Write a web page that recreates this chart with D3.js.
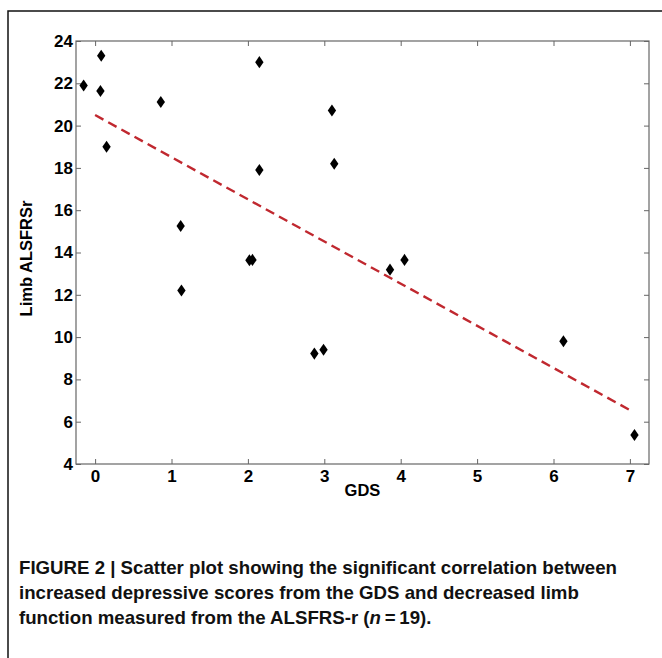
<!DOCTYPE html>
<html>
<head>
<meta charset="utf-8">
<script src="https://cdn.jsdelivr.net/npm/d3@7"></script>
<style>
  html, body { margin: 0; padding: 0; background: #fff; }
  svg { display: block; }
</style>
</head>
<body>
<svg id="chart" width="662" height="658"></svg>
<script>
// ---- data ----
const gds   = [-0.15, 0.08, 0.07, 0.15, 0.86, 1.12, 1.13, 2.02, 2.06, 2.15, 2.15, 2.87, 2.99, 3.10, 3.13, 3.86, 4.05, 6.13, 7.06];
const limb  = [21.9, 23.3, 21.64, 19.0, 21.12, 15.25, 12.2, 13.63, 13.65, 23.0, 17.9, 9.22, 9.4, 20.71, 18.2, 13.19, 13.65, 9.8, 5.37];
const fitX  = [0, 7];
const fitY  = [20.5, 6.55];
const xTicks = [0, 1, 2, 3, 4, 5, 6, 7];
const yTicks = [4, 6, 8, 10, 12, 14, 16, 18, 20, 22, 24];
const xLabel = "GDS";
const yLabel = "Limb ALSFRSr";
const captionLines = [
  [{t:"FIGURE 2 | ", i:false}, {t:"Scatter plot showing the significant correlation between", i:false}],
  [{t:"increased depressive scores from the GDS and decreased limb", i:false}],
  [{t:"function measured from the ALSFRS-r (", i:false}, {t:"n", i:true}, {t:"\u2009=\u200919).", i:false}]
];

// ---- layout ----
const svg = d3.select("#chart");
const L = 76, R = 649, T = 41, B = 464;
const x = d3.scaleLinear().domain([-0.25, 7.25]).range([L, R]);
const y = d3.scaleLinear().domain([4, 24]).range([B, T]);
const axisColor = "#666";
const font = "'Liberation Sans', Arial, Helvetica, sans-serif";

// outer frame
svg.append("rect").attr("x", 8).attr("y", 11).attr("width", 700).attr("height", 700)
  .attr("fill", "none").attr("stroke", "#111").attr("stroke-width", 1.5);

// axes
function styleAxis(g, showLabels) {
  g.select(".domain").remove();
  g.selectAll(".tick line").attr("stroke", axisColor).attr("stroke-width", 1);
  g.selectAll(".tick text")
    .attr("fill", "#000").attr("font-family", font).attr("font-weight", "bold").attr("font-size", "17px");
  if (!showLabels) g.selectAll(".tick text").remove();
}
svg.append("g").attr("transform", `translate(0,${B})`)
  .call(d3.axisBottom(x).tickValues(xTicks).tickSizeInner(-5).tickSizeOuter(0).tickPadding(6).tickFormat(d3.format("d")))
  .call(g => styleAxis(g, true));
svg.append("g").attr("transform", `translate(0,${T})`)
  .call(d3.axisTop(x).tickValues(xTicks).tickSizeInner(-5).tickSizeOuter(0))
  .call(g => styleAxis(g, false));
svg.append("g").attr("transform", `translate(${L},0)`)
  .call(d3.axisLeft(y).tickValues(yTicks).tickSizeInner(-5).tickSizeOuter(0).tickPadding(3).tickFormat(d3.format("d")))
  .call(g => styleAxis(g, true));
svg.append("g").attr("transform", `translate(${R},0)`)
  .call(d3.axisRight(y).tickValues(yTicks).tickSizeInner(-5).tickSizeOuter(0))
  .call(g => styleAxis(g, false));

// box
svg.append("rect").attr("x", L).attr("y", T).attr("width", R - L).attr("height", B - T)
  .attr("fill", "none").attr("stroke", axisColor).attr("stroke-width", 1.2);

// regression line
const fit = fitX.map((v, i) => ({x: v, y: fitY[i]}));
svg.append("path").datum(fit)
  .attr("d", d3.line().x(d => x(d.x)).y(d => y(d.y)))
  .attr("fill", "none").attr("stroke", "#c0282f").attr("stroke-width", 2.4)
  .attr("stroke-dasharray", "9.5,5.5");

// points
const pts = gds.map((v, i) => ({x: v, y: limb[i]}));
const diamond = d3.symbol().type(d3.symbolDiamond).size(42);
svg.append("g").selectAll("path").data(pts).join("path")
  .attr("d", diamond)
  .attr("transform", d => `translate(${x(d.x)},${y(d.y)}) scale(1.2,1)`)
  .attr("fill", "#000");

// axis labels
svg.append("text").attr("x", (L + R) / 2).attr("y", 496).attr("text-anchor", "middle")
  .attr("font-family", font).attr("font-weight", "bold").attr("font-size", "16.5px").text(xLabel);
svg.append("text").attr("transform", `translate(32,${(T + B) / 2 + 6}) rotate(-90)`).attr("text-anchor", "middle")
  .attr("font-family", font).attr("font-weight", "bold").attr("font-size", "16.5px").text(yLabel);

// caption (condensed bold, fitted to the reference line width)
const capY = [574, 599, 624];
const cap = svg.append("g");
captionLines.forEach((parts, li) => {
  const t = cap.append("text").attr("x", 19).attr("y", capY[li])
    .attr("font-family", font).attr("font-weight", "bold").attr("font-size", "18.5px").attr("fill", "#111");
  parts.forEach(p => {
    t.append("tspan").attr("font-style", p.i ? "italic" : "normal").text(p.t);
  });
});
const nodes = cap.selectAll("text").nodes();
const k = 598 / nodes[0].getComputedTextLength();
nodes.forEach(n => {
  const w = n.getComputedTextLength();
  d3.select(n).attr("textLength", (w * k).toFixed(1)).attr("lengthAdjust", "spacingAndGlyphs");
});
</script>
</body>
</html>
